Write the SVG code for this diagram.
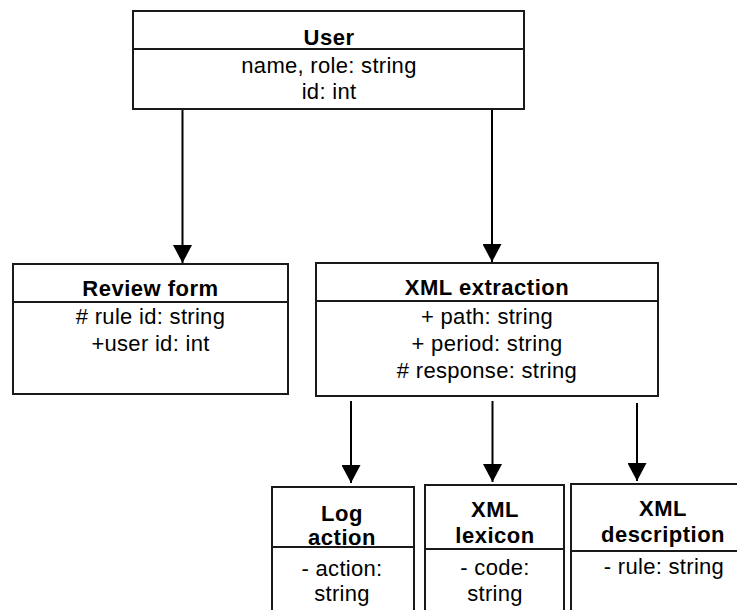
<svg xmlns="http://www.w3.org/2000/svg" width="737" height="610" viewBox="0 0 737 610">
<defs>
<style>
.box{fill:#fff;stroke:#1a1a1a;stroke-width:2}
.div{stroke:#1a1a1a;stroke-width:2}
.t{font-family:"Liberation Sans",Arial,sans-serif;font-size:22px;letter-spacing:0.3px;text-anchor:middle;fill:#000}
.b{font-weight:bold;letter-spacing:0.5px}
.c{stroke:#000;stroke-width:2;fill:none;marker-end:url(#ah)}
</style>
<marker id="ah" markerUnits="userSpaceOnUse" markerWidth="19" markerHeight="19" refX="18" refY="9.5" orient="auto">
<path d="M0,0 L18,9.5 L0,19 z" fill="#000"/>
</marker>
</defs>
<rect width="737" height="610" fill="#fff"/>
<g id="connectors">
<line class="c" x1="182.5" y1="109" x2="182.5" y2="263"/>
<line class="c" x1="492" y1="109" x2="492" y2="262"/>
<line class="c" x1="351" y1="401" x2="351" y2="483"/>
<line class="c" x1="492.5" y1="401" x2="492.5" y2="482"/>
<line class="c" x1="637" y1="403" x2="637" y2="481"/>
</g>
<g id="user">
<rect class="box" x="133" y="11" width="391" height="98"/>
<line class="div" x1="133" y1="49" x2="524" y2="49"/>
<text class="t b" x="329" y="45">User</text>
<text class="t" x="329" y="73">name, role: string</text>
<text class="t" x="329" y="99">id: int</text>
</g>
<g id="review-form">
<rect class="box" x="13" y="264" width="275" height="130"/>
<line class="div" x1="13" y1="302" x2="288" y2="302"/>
<text class="t b" x="150.5" y="296">Review form</text>
<text class="t" x="150.5" y="324"># rule id: string</text>
<text class="t" x="150.5" y="351">+user id: int</text>
</g>
<g id="xml-extraction">
<rect class="box" x="316" y="263" width="342" height="133"/>
<line class="div" x1="316" y1="301" x2="658" y2="301"/>
<text class="t b" x="487" y="295">XML extraction</text>
<text class="t" x="487" y="324">+ path: string</text>
<text class="t" x="487" y="351">+ period: string</text>
<text class="t" x="487" y="378"># response: string</text>
</g>
<g id="log-action">
<rect class="box" x="272" y="487" width="142" height="135"/>
<line class="div" x1="272" y1="547" x2="414" y2="547"/>
<text class="t b" x="342" y="521">Log</text>
<text class="t b" x="342" y="545">action</text>
<text class="t" x="342" y="576">- action:</text>
<text class="t" x="342" y="601">string</text>
</g>
<g id="xml-lexicon">
<rect class="box" x="425" y="485" width="139" height="137"/>
<line class="div" x1="425" y1="549" x2="564" y2="549"/>
<text class="t b" x="495" y="517">XML</text>
<text class="t b" x="495" y="543">lexicon</text>
<text class="t" x="495" y="575">- code:</text>
<text class="t" x="495" y="601">string</text>
</g>
<g id="xml-description">
<rect class="box" x="571" y="484" width="184" height="138"/>
<line class="div" x1="571" y1="551" x2="755" y2="551"/>
<text class="t b" x="663" y="516">XML</text>
<text class="t b" x="663" y="542">description</text>
<text class="t" x="664" y="574">- rule: string</text>
</g>
</svg>
